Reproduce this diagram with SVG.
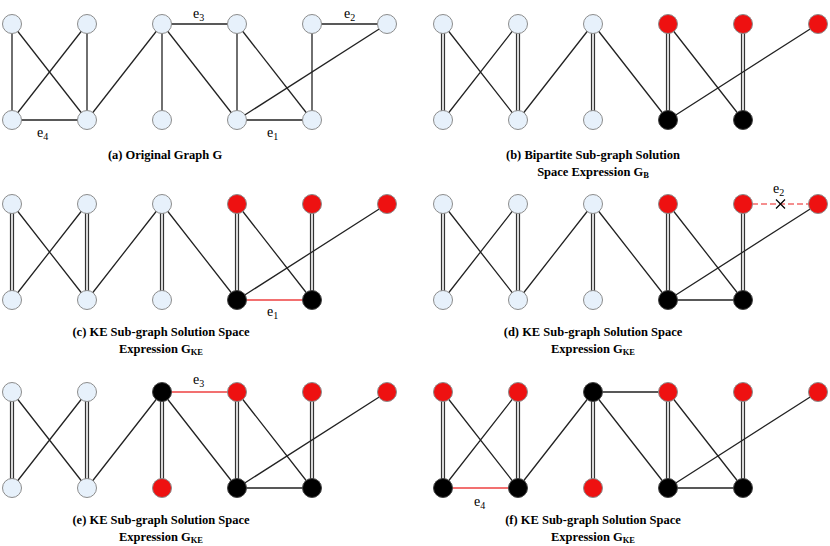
<svg xmlns="http://www.w3.org/2000/svg" width="830" height="546" viewBox="0 0 830 546">
<style>
.e{stroke:#222;stroke-width:1.3;fill:none}
.dbo{stroke:#333;stroke-width:4.2;fill:none}
.dbi{stroke:#fff;stroke-width:1.6;fill:none}
.r{stroke:#ee4040;stroke-width:1.4;fill:none}
.rd{stroke:#f26a6a;stroke-width:1.6;stroke-dasharray:6,3;fill:none}
.lb{fill:#e7f1fb;stroke:#8c8c8c;stroke-width:1}
.rn{fill:#ee1111;stroke:#8c8c8c;stroke-width:1}
.bn{fill:#000;stroke:#444;stroke-width:1}
.cap{font-family:"Liberation Serif",serif;font-weight:bold;font-size:12.5px;fill:#000;text-anchor:middle}
.lab{font-family:"Liberation Serif",serif;font-size:14px;fill:#000}
.sub{font-size:10px}
.csub{font-size:8.5px}
</style>
<rect width="830" height="546" fill="#fff"/>

<g id="connectors">
<g id="edges-a">
<line class="e" stroke="#555" x1="12" y1="24" x2="12" y2="120"/>
<line class="e" x1="12" y1="24" x2="87" y2="120"/>
<line class="e" x1="87" y1="24" x2="12" y2="120"/>
<line class="e" x1="87" y1="24" x2="87" y2="120"/>
<line class="e" x1="12" y1="120" x2="87" y2="120"/>
<line class="e" x1="87" y1="120" x2="162" y2="24"/>
<line class="e" x1="162" y1="24" x2="162" y2="120"/>
<line class="e" x1="162" y1="24" x2="237" y2="24"/>
<line class="e" x1="162" y1="24" x2="237" y2="120"/>
<line class="e" x1="237" y1="24" x2="237" y2="120"/>
<line class="e" x1="237" y1="24" x2="312" y2="120"/>
<line class="e" x1="237" y1="120" x2="312" y2="120"/>
<line class="e" x1="312" y1="24" x2="312" y2="120"/>
<line class="e" x1="312" y1="24" x2="387" y2="24"/>
<line class="e" x1="237" y1="120" x2="387" y2="24"/>
</g>
<g id="edges-b">
<path class="dbo" d="M443 24V120M518 24V120M593 24V120M668 24V120M743 24V120"/>
<path class="dbi" d="M443 24V120M518 24V120M593 24V120M668 24V120M743 24V120"/>
<path class="e" d="M443 24L518 120M518 24L443 120M518 120L593 24M593 24L668 120M668 24L743 120M668 120L818 24"/>
</g>
<g id="edges-c">
<path class="dbo" d="M12 204V300M87 204V300M162 204V300M237 204V300M312 204V300"/>
<path class="dbi" d="M12 204V300M87 204V300M162 204V300M237 204V300M312 204V300"/>
<path class="e" d="M12 204L87 300M87 204L12 300M87 300L162 204M162 204L237 300M237 204L312 300M237 300L387 204"/>
<line class="r" x1="237" y1="300" x2="312" y2="300"/>
</g>
<g id="edges-d">
<path class="dbo" d="M443 204V300M518 204V300M593 204V300M668 204V300M743 204V300"/>
<path class="dbi" d="M443 204V300M518 204V300M593 204V300M668 204V300M743 204V300"/>
<path class="e" d="M443 204L518 300M518 204L443 300M518 300L593 204M593 204L668 300M668 204L743 300M668 300L818 204M668 300H743"/>
<line class="rd" x1="752" y1="204" x2="809" y2="204"/>
<path d="M776 199.5l9 9M785 199.5l-9 9" stroke="#000" stroke-width="1.2" fill="none"/>
</g>
<g id="edges-e">
<path class="dbo" d="M12 392V488M87 392V488M162 392V488M237 392V488M312 392V488"/>
<path class="dbi" d="M12 392V488M87 392V488M162 392V488M237 392V488M312 392V488"/>
<path class="e" d="M12 392L87 488M87 392L12 488M87 488L162 392M162 392L237 488M237 392L312 488M237 488L387 392M237 488H312"/>
<line class="r" x1="162" y1="392" x2="237" y2="392"/>
</g>
<g id="edges-f">
<path class="dbo" d="M443 392V488M518 392V488M593 392V488M668 392V488M743 392V488"/>
<path class="dbi" d="M443 392V488M518 392V488M593 392V488M668 392V488M743 392V488"/>
<path class="e" d="M443 392L518 488M518 392L443 488M518 488L593 392M593 392L668 488M668 392L743 488M668 488L818 392M668 488H743M593 392H668"/>
<line class="r" x1="443" y1="488" x2="518" y2="488"/>
</g>
</g>

<g id="a-A1"><circle class="lb" cx="12" cy="24" r="9.5"/></g>
<g id="a-A2"><circle class="lb" cx="87" cy="24" r="9.5"/></g>
<g id="a-A3"><circle class="lb" cx="162" cy="24" r="9.5"/></g>
<g id="a-A4"><circle class="lb" cx="237" cy="24" r="9.5"/></g>
<g id="a-A5"><circle class="lb" cx="312" cy="24" r="9.5"/></g>
<g id="a-A6"><circle class="lb" cx="387" cy="24" r="9.5"/></g>
<g id="a-B1"><circle class="lb" cx="12" cy="120" r="9.5"/></g>
<g id="a-B2"><circle class="lb" cx="87" cy="120" r="9.5"/></g>
<g id="a-B3"><circle class="lb" cx="162" cy="120" r="9.5"/></g>
<g id="a-B4"><circle class="lb" cx="237" cy="120" r="9.5"/></g>
<g id="a-B5"><circle class="lb" cx="312" cy="120" r="9.5"/></g>

<g id="b-A1"><circle class="lb" cx="443" cy="24" r="9.5"/></g>
<g id="b-A2"><circle class="lb" cx="518" cy="24" r="9.5"/></g>
<g id="b-A3"><circle class="lb" cx="593" cy="24" r="9.5"/></g>
<g id="b-A4"><circle class="rn" cx="668" cy="24" r="9.5"/></g>
<g id="b-A5"><circle class="rn" cx="743" cy="24" r="9.5"/></g>
<g id="b-A6"><circle class="rn" cx="818" cy="24" r="9.5"/></g>
<g id="b-B1"><circle class="lb" cx="443" cy="120" r="9.5"/></g>
<g id="b-B2"><circle class="lb" cx="518" cy="120" r="9.5"/></g>
<g id="b-B3"><circle class="lb" cx="593" cy="120" r="9.5"/></g>
<g id="b-B4"><circle class="bn" cx="668" cy="120" r="9.5"/></g>
<g id="b-B5"><circle class="bn" cx="743" cy="120" r="9.5"/></g>

<g id="c-A1"><circle class="lb" cx="12" cy="204" r="9.5"/></g>
<g id="c-A2"><circle class="lb" cx="87" cy="204" r="9.5"/></g>
<g id="c-A3"><circle class="lb" cx="162" cy="204" r="9.5"/></g>
<g id="c-A4"><circle class="rn" cx="237" cy="204" r="9.5"/></g>
<g id="c-A5"><circle class="rn" cx="312" cy="204" r="9.5"/></g>
<g id="c-A6"><circle class="rn" cx="387" cy="204" r="9.5"/></g>
<g id="c-B1"><circle class="lb" cx="12" cy="300" r="9.5"/></g>
<g id="c-B2"><circle class="lb" cx="87" cy="300" r="9.5"/></g>
<g id="c-B3"><circle class="lb" cx="162" cy="300" r="9.5"/></g>
<g id="c-B4"><circle class="bn" cx="237" cy="300" r="9.5"/></g>
<g id="c-B5"><circle class="bn" cx="312" cy="300" r="9.5"/></g>

<g id="d-A1"><circle class="lb" cx="443" cy="204" r="9.5"/></g>
<g id="d-A2"><circle class="lb" cx="518" cy="204" r="9.5"/></g>
<g id="d-A3"><circle class="lb" cx="593" cy="204" r="9.5"/></g>
<g id="d-A4"><circle class="rn" cx="668" cy="204" r="9.5"/></g>
<g id="d-A5"><circle class="rn" cx="743" cy="204" r="9.5"/></g>
<g id="d-A6"><circle class="rn" cx="818" cy="204" r="9.5"/></g>
<g id="d-B1"><circle class="lb" cx="443" cy="300" r="9.5"/></g>
<g id="d-B2"><circle class="lb" cx="518" cy="300" r="9.5"/></g>
<g id="d-B3"><circle class="lb" cx="593" cy="300" r="9.5"/></g>
<g id="d-B4"><circle class="bn" cx="668" cy="300" r="9.5"/></g>
<g id="d-B5"><circle class="bn" cx="743" cy="300" r="9.5"/></g>

<g id="e-A1"><circle class="lb" cx="12" cy="392" r="9.5"/></g>
<g id="e-A2"><circle class="lb" cx="87" cy="392" r="9.5"/></g>
<g id="e-A3"><circle class="bn" cx="162" cy="392" r="9.5"/></g>
<g id="e-A4"><circle class="rn" cx="237" cy="392" r="9.5"/></g>
<g id="e-A5"><circle class="rn" cx="312" cy="392" r="9.5"/></g>
<g id="e-A6"><circle class="rn" cx="387" cy="392" r="9.5"/></g>
<g id="e-B1"><circle class="lb" cx="12" cy="488" r="9.5"/></g>
<g id="e-B2"><circle class="lb" cx="87" cy="488" r="9.5"/></g>
<g id="e-B3"><circle class="rn" cx="162" cy="488" r="9.5"/></g>
<g id="e-B4"><circle class="bn" cx="237" cy="488" r="9.5"/></g>
<g id="e-B5"><circle class="bn" cx="312" cy="488" r="9.5"/></g>

<g id="f-A1"><circle class="rn" cx="443" cy="392" r="9.5"/></g>
<g id="f-A2"><circle class="rn" cx="518" cy="392" r="9.5"/></g>
<g id="f-A3"><circle class="bn" cx="593" cy="392" r="9.5"/></g>
<g id="f-A4"><circle class="rn" cx="668" cy="392" r="9.5"/></g>
<g id="f-A5"><circle class="rn" cx="743" cy="392" r="9.5"/></g>
<g id="f-A6"><circle class="rn" cx="818" cy="392" r="9.5"/></g>
<g id="f-B1"><circle class="bn" cx="443" cy="488" r="9.5"/></g>
<g id="f-B2"><circle class="bn" cx="518" cy="488" r="9.5"/></g>
<g id="f-B3"><circle class="rn" cx="593" cy="488" r="9.5"/></g>
<g id="f-B4"><circle class="bn" cx="668" cy="488" r="9.5"/></g>
<g id="f-B5"><circle class="bn" cx="743" cy="488" r="9.5"/></g>

<g id="labels">
<text class="lab" x="193" y="18">e<tspan class="sub" dy="3">3</tspan></text>
<text class="lab" x="344" y="18">e<tspan class="sub" dy="3">2</tspan></text>
<text class="lab" x="37" y="137">e<tspan class="sub" dy="3">4</tspan></text>
<text class="lab" x="267" y="137">e<tspan class="sub" dy="3">1</tspan></text>
<text class="lab" x="267" y="316">e<tspan class="sub" dy="3">1</tspan></text>
<text class="lab" x="773" y="193">e<tspan class="sub" dy="3">2</tspan></text>
<text class="lab" x="193" y="384">e<tspan class="sub" dy="3">3</tspan></text>
<text class="lab" x="474" y="506">e<tspan class="sub" dy="3">4</tspan></text>
</g>

<g id="captions">
<text class="cap" x="165" y="159">(a) Original Graph G</text>
<text class="cap" x="593" y="159">(b) Bipartite Sub-graph Solution</text>
<text class="cap" x="593" y="176">Space Expression G<tspan class="csub" dy="2">B</tspan></text>
<text class="cap" x="161" y="336">(c) KE Sub-graph Solution Space</text>
<text class="cap" x="161" y="353">Expression G<tspan class="csub" dy="2">KE</tspan></text>
<text class="cap" x="593" y="336">(d) KE Sub-graph Solution Space</text>
<text class="cap" x="593" y="353">Expression G<tspan class="csub" dy="2">KE</tspan></text>
<text class="cap" x="161" y="524">(e) KE Sub-graph Solution Space</text>
<text class="cap" x="161" y="541">Expression G<tspan class="csub" dy="2">KE</tspan></text>
<text class="cap" x="593" y="524">(f) KE Sub-graph Solution Space</text>
<text class="cap" x="593" y="541">Expression G<tspan class="csub" dy="2">KE</tspan></text>
</g>
</svg>
